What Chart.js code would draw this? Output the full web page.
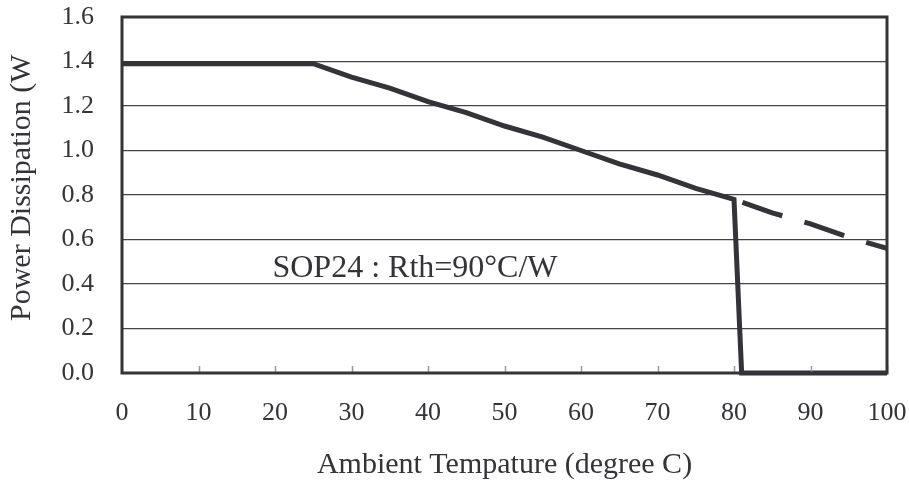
<!DOCTYPE html>
<html>
<head>
<meta charset="utf-8">
<script src="https://cdn.jsdelivr.net/npm/chart.js@4"></script>
<style>
  html, body { margin: 0; padding: 0; background: #fff; }
  #wrap { width: 909px; height: 486px; }
</style>
</head>
<body>
<div id="wrap"><canvas id="powerChart"></canvas></div>
<script>
// values
var solidTemps = [0, 25, 30, 35, 40, 45, 50, 55, 60, 65, 70, 75, 80, 81, 100];
var solidPower = [1.39, 1.39, 1.33, 1.28, 1.22, 1.17, 1.11, 1.06, 1.00, 0.94, 0.89, 0.83, 0.78, 0, 0];
var dashTemps = [80, 85, 90, 95, 100];
var dashPower = [0.78, 0.72, 0.67, 0.61, 0.56];
var xTicks = [0, 10, 20, 30, 40, 50, 60, 70, 80, 90, 100];
var yTicks = [0, 0.2, 0.4, 0.6, 0.8, 1.0, 1.2, 1.4, 1.6];
var note = 'SOP24 : Rth=90°C/W';

var ink = '#333338';
var serif = "'Liberation Serif', 'Times New Roman', serif";

function toPoints(xs, ys) {
    return xs.map(function (x, i) { return { x: x, y: ys[i] }; });
}

function noOverhang(s) {
    s.paddingTop = 0;
    s.paddingBottom = 0;
    s.paddingLeft = 0;
    s.paddingRight = 0;
}

var framePlugin = {
    id: 'frame',
    afterDatasetsDraw: function (chart) {
        var ctx = chart.ctx;
        var a = chart.chartArea;
        var xs = chart.scales.x;
        var ys = chart.scales.y;
        ctx.save();
        // small inward ticks on the bottom axis
        ctx.strokeStyle = '#9a9a9a';
        ctx.lineWidth = 1.5;
        xTicks.forEach(function (t) {
            if (t === 0) return;
            var px = Math.round(xs.getPixelForValue(t)) + 0.5;
            ctx.beginPath();
            ctx.moveTo(px, a.bottom);
            ctx.lineTo(px, a.bottom - 7);
            ctx.stroke();
        });
        // plot frame
        ctx.strokeStyle = ink;
        ctx.lineWidth = 3;
        ctx.strokeRect(a.left, a.top, a.right - a.left, a.bottom - a.top);
        // note text
        ctx.fillStyle = ink;
        ctx.font = '32px ' + serif;
        ctx.textAlign = 'center';
        ctx.textBaseline = 'middle';
        ctx.fillText(note, xs.getPixelForValue(38.3), ys.getPixelForValue(0.47));
        // y axis title (cut off at the top as in the original)
        ctx.font = '30px ' + serif;
        ctx.translate(22, 321);
        ctx.rotate(-Math.PI / 2);
        ctx.textAlign = 'left';
        ctx.fillText('Power Dissipation (W', 0, 0);
        ctx.restore();
    }
};

var ctx = document.getElementById('powerChart').getContext('2d');
var myChart = new Chart(ctx, {
    type: 'line',
    data: {
        datasets: [{
            label: 'derating',
            data: toPoints(solidTemps, solidPower),
            borderColor: ink,
            borderWidth: 5,
            pointRadius: 0,
            tension: 0,
            clip: false
        }, {
            label: 'extension',
            data: toPoints(dashTemps, dashPower),
            borderColor: ink,
            borderWidth: 5,
            borderDash: [42, 23],
            borderDashOffset: 56,
            borderCapStyle: 'butt',
            pointRadius: 0,
            tension: 0
        }]
    },
    options: {
        responsive: true,
        maintainAspectRatio: false,
        animation: false,
        layout: { padding: { top: 17, right: 22, left: 0, bottom: 0 } },
        plugins: {
            legend: { display: false },
            tooltip: { enabled: false }
        },
        scales: {
            x: {
                type: 'linear',
                min: 0,
                max: 100,
                afterFit: function (s) { s.height = 113; noOverhang(s); },
                afterBuildTicks: function (s) { s.ticks = xTicks.map(function (v) { return { value: v }; }); },
                grid: { display: false, drawTicks: false },
                border: { display: false },
                ticks: {
                    padding: 25,
                    color: ink,
                    font: { family: serif, size: 26 },
                    maxRotation: 0
                },
                title: {
                    display: true,
                    text: 'Ambient Tempature (degree C)',
                    color: ink,
                    font: { family: serif, size: 30 },
                    padding: { top: 0, bottom: 3 }
                }
            },
            y: {
                min: 0,
                max: 1.6,
                afterFit: function (s) { s.width = 122; noOverhang(s); },
                afterBuildTicks: function (s) { s.ticks = yTicks.map(function (v) { return { value: v }; }); },
                grid: { color: '#444', lineWidth: 1.2, drawTicks: false },
                border: { display: false },
                ticks: {
                    padding: 28,
                    color: ink,
                    font: { family: serif, size: 26 },
                    callback: function (v) { return Number(v).toFixed(1); }
                }
            }
        }
    },
    plugins: [framePlugin]
});
</script>
</body>
</html>
